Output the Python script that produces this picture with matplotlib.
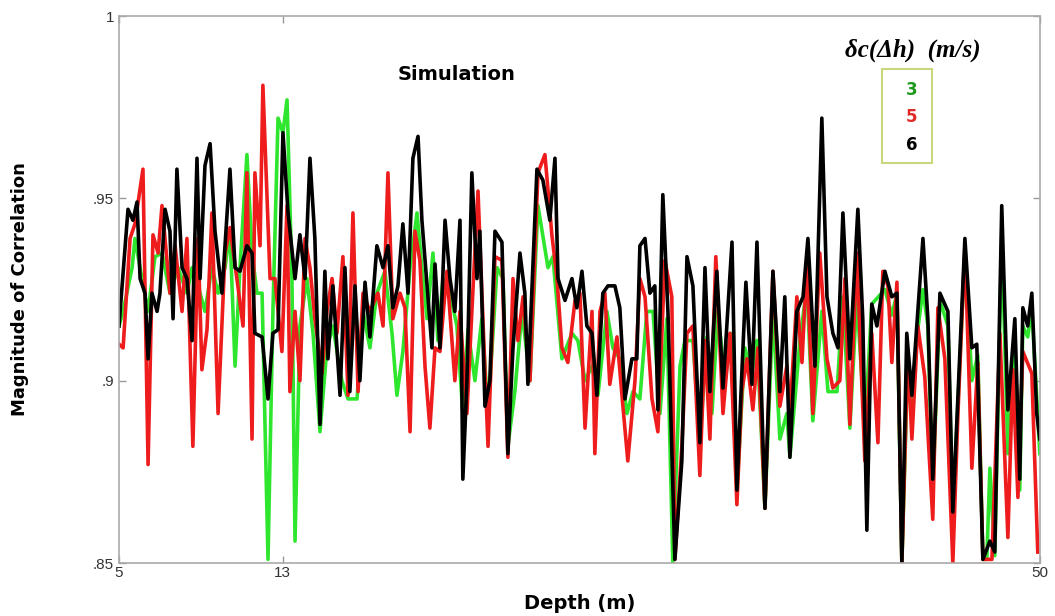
import matplotlib
matplotlib.use("Agg")
import matplotlib.pyplot as plt
from matplotlib.patches import Rectangle

plt.rcParams['font.family'] = ['Liberation Sans', 'DejaVu Sans']

# depth (m) / magnitude of correlation, one pair per sound-speed error
depth_3 = [5.00, 5.20, 5.64, 5.78, 6.12, 6.42, 6.76, 7.10, 7.49, 7.88, 8.32, 8.57, 8.86, 9.20,
           9.54, 9.84, 10.18, 10.42, 10.67, 10.91, 11.25, 11.50, 11.74, 11.99, 12.28, 12.52,
           12.77, 13.01, 13.21, 13.45, 13.60, 13.84, 14.18, 14.48, 14.82, 15.16, 15.45, 15.89,
           16.19, 16.63, 16.92, 17.26, 17.60, 17.99, 18.34, 18.58, 18.87, 19.22, 19.56, 19.80,
           20.05, 20.34, 20.58, 20.83, 21.17, 21.51, 21.80, 22.05, 22.39, 22.73, 23.03, 23.47,
           23.76, 24.00, 24.34, 24.69, 25.08, 25.47, 25.96, 26.20, 26.64, 27.13, 27.42, 27.77,
           28.11, 28.40, 28.84, 29.13, 29.47, 29.82, 30.11, 30.45, 30.79, 31.09, 31.43, 31.77,
           32.06, 32.41, 32.65, 33.04, 33.38, 33.72, 33.97, 34.26, 34.60, 34.95, 35.19, 35.58,
           35.92, 36.17, 36.56, 36.95, 37.29, 37.63, 37.78, 38.27, 38.61, 38.90, 39.34, 39.64,
           40.08, 40.37, 40.71, 41.05, 41.44, 41.78, 42.42, 42.76, 43.01, 43.25, 43.54, 43.74,
           43.98, 44.28, 44.52, 44.76, 45.11, 45.50, 45.74, 45.99, 46.33, 46.67, 46.96, 47.21,
           47.40, 47.55, 47.79, 48.13, 48.43, 48.77, 49.01, 49.16, 49.40, 49.60, 49.99]
corr_3 = [0.915, 0.919, 0.931, 0.939, 0.928, 0.919, 0.934, 0.935, 0.924, 0.931, 0.924, 0.931, 0.926, 0.919,
          0.931, 0.924, 0.931, 0.941, 0.904, 0.931, 0.962, 0.935, 0.924, 0.924, 0.851, 0.919,
          0.972, 0.968, 0.977, 0.928, 0.856, 0.915, 0.928, 0.913, 0.886, 0.909, 0.915, 0.900,
          0.895, 0.895, 0.919, 0.909, 0.924, 0.930, 0.913, 0.896, 0.908, 0.931, 0.946, 0.931,
          0.917, 0.935, 0.911, 0.928, 0.924, 0.915, 0.891, 0.914, 0.900, 0.917, 0.891, 0.931,
          0.928, 0.882, 0.897, 0.919, 0.900, 0.948, 0.931, 0.934, 0.906, 0.913, 0.911, 0.900,
          0.904, 0.896, 0.919, 0.909, 0.906, 0.891, 0.897, 0.895, 0.919, 0.919, 0.891, 0.917,
          0.850, 0.904, 0.911, 0.911, 0.883, 0.912, 0.891, 0.919, 0.900, 0.913, 0.870, 0.909,
          0.902, 0.911, 0.865, 0.919, 0.884, 0.891, 0.879, 0.911, 0.926, 0.889, 0.919, 0.897,
          0.897, 0.923, 0.887, 0.923, 0.887, 0.921, 0.925, 0.918, 0.924, 0.850, 0.905, 0.890,
          0.912, 0.925, 0.915, 0.870, 0.922, 0.915, 0.862, 0.894, 0.935, 0.900, 0.907, 0.851,
          0.851, 0.876, 0.852, 0.940, 0.880, 0.910, 0.870, 0.915, 0.912, 0.920, 0.880]

depth_5 = [5.00, 5.20, 5.54, 5.78, 6.17, 6.42, 6.66, 6.91, 7.10, 7.49, 7.74, 8.08, 8.32, 8.61,
           8.86, 9.05, 9.30, 9.54, 9.84, 10.18, 10.42, 10.76, 11.06, 11.25, 11.50, 11.64, 11.89,
           12.03, 12.38, 12.62, 12.96, 13.21, 13.35, 13.60, 13.84, 14.09, 14.33, 14.57, 14.92,
           15.16, 15.41, 15.65, 15.94, 16.19, 16.43, 16.68, 16.92, 17.26, 17.65, 17.90, 18.14,
           18.38, 18.73, 18.97, 19.22, 19.46, 19.70, 19.95, 20.19, 20.44, 20.68, 21.02, 21.41,
           21.66, 22.00, 22.24, 22.54, 22.78, 23.03, 23.37, 23.71, 24.00, 24.25, 24.49, 24.74,
           25.08, 25.47, 25.81, 26.15, 26.40, 26.64, 26.93, 27.28, 27.52, 27.77, 28.11, 28.25,
           28.50, 28.74, 28.98, 29.33, 29.62, 29.86, 30.21, 30.45, 30.70, 31.04, 31.33, 31.67,
           32.01, 32.16, 32.50, 32.75, 33.04, 33.38, 33.63, 33.87, 34.16, 34.51, 34.85, 35.19,
           35.43, 35.68, 35.97, 36.22, 36.56, 36.95, 37.29, 37.63, 37.78, 38.12, 38.37, 38.61,
           38.90, 39.24, 39.59, 39.88, 40.22, 40.47, 40.71, 41.05, 41.44, 41.78, 42.08, 42.32,
           42.57, 42.76, 43.01, 43.25, 43.54, 43.74, 44.03, 44.37, 44.76, 45.01, 45.35, 45.74,
           45.99, 46.33, 46.67, 46.96, 47.21, 47.65, 48.04, 48.43, 48.67, 48.92, 49.16, 49.60,
           49.89]
corr_5 = [0.910, 0.909, 0.939, 0.943, 0.958, 0.877, 0.940, 0.935, 0.948, 0.924, 0.937, 0.919, 0.939, 0.882,
          0.939, 0.903, 0.914, 0.946, 0.891, 0.935, 0.942, 0.928, 0.915, 0.957, 0.884, 0.957, 0.937,
          0.981, 0.928, 0.928, 0.908, 0.948, 0.897, 0.919, 0.900, 0.939, 0.931, 0.917, 0.902,
          0.919, 0.928, 0.913, 0.934, 0.896, 0.946, 0.897, 0.924, 0.919, 0.924, 0.915, 0.957,
          0.917, 0.924, 0.920, 0.886, 0.941, 0.933, 0.904, 0.887, 0.909, 0.908, 0.930, 0.900,
          0.919, 0.891, 0.919, 0.952, 0.917, 0.882, 0.934, 0.933, 0.879, 0.928, 0.911, 0.923,
          0.900, 0.957, 0.962, 0.940, 0.928, 0.909, 0.905, 0.922, 0.924, 0.887, 0.919, 0.880,
          0.919, 0.924, 0.899, 0.912, 0.893, 0.878, 0.900, 0.928, 0.923, 0.895, 0.886, 0.933,
          0.923, 0.851, 0.882, 0.913, 0.915, 0.874, 0.911, 0.884, 0.934, 0.891, 0.913, 0.866,
          0.897, 0.906, 0.892, 0.909, 0.865, 0.930, 0.893, 0.904, 0.891, 0.923, 0.905, 0.933,
          0.891, 0.935, 0.906, 0.898, 0.900, 0.928, 0.888, 0.935, 0.878, 0.913, 0.883, 0.930,
          0.926, 0.905, 0.927, 0.850, 0.908, 0.884, 0.915, 0.901, 0.862, 0.920, 0.906, 0.850,
          0.891, 0.937, 0.876, 0.905, 0.851, 0.851, 0.913, 0.857, 0.903, 0.868, 0.908, 0.902,
          0.853]

depth_6 = [5.00, 5.44, 5.68, 5.88, 6.03, 6.27, 6.42, 6.61, 6.86, 7.00, 7.25, 7.49, 7.64, 7.83,
           8.08, 8.32, 8.57, 8.81, 8.96, 9.20, 9.45, 9.69, 10.03, 10.42, 10.67, 10.91, 11.25,
           11.50, 11.64, 11.99, 12.28, 12.52, 12.77, 13.01, 13.26, 13.60, 13.84, 14.09, 14.33,
           14.57, 14.82, 15.06, 15.21, 15.45, 15.80, 16.04, 16.28, 16.53, 16.77, 17.02, 17.26,
           17.60, 17.90, 18.14, 18.38, 18.63, 18.87, 19.12, 19.36, 19.61, 19.80, 20.05, 20.29,
           20.44, 20.68, 20.93, 21.17, 21.41, 21.66, 21.80, 22.00, 22.24, 22.49, 22.63, 22.88,
           23.12, 23.37, 23.71, 24.00, 24.25, 24.59, 24.83, 24.98, 25.42, 25.71, 26.05, 26.30,
           26.45, 26.79, 27.13, 27.37, 27.62, 27.86, 28.11, 28.35, 28.64, 28.89, 29.23, 29.47,
           29.72, 30.06, 30.30, 30.45, 30.70, 30.94, 31.18, 31.33, 31.57, 31.82, 32.16, 32.50,
           32.75, 33.04, 33.38, 33.63, 33.87, 34.21, 34.51, 34.95, 35.19, 35.43, 35.63, 35.92,
           36.17, 36.56, 36.95, 37.29, 37.53, 37.78, 38.12, 38.42, 38.66, 39.00, 39.34, 39.59,
           39.88, 40.13, 40.37, 40.71, 41.10, 41.34, 41.54, 41.78, 42.03, 42.42, 42.76, 43.01,
           43.25, 43.49, 43.74, 43.98, 44.28, 44.52, 44.76, 45.11, 45.50, 45.74, 45.99, 46.33,
           46.67, 46.91, 47.21, 47.55, 47.79, 48.13, 48.43, 48.77, 49.01, 49.16, 49.40, 49.60,
           49.84, 49.99]
corr_6 = [0.915, 0.947, 0.944, 0.949, 0.928, 0.924, 0.906, 0.924, 0.919, 0.924, 0.947, 0.941, 0.917, 0.958,
          0.931, 0.928, 0.911, 0.961, 0.928, 0.959, 0.965, 0.941, 0.924, 0.958, 0.931, 0.930, 0.937,
          0.935, 0.913, 0.912, 0.895, 0.913, 0.914, 0.968, 0.946, 0.928, 0.940, 0.928, 0.961,
          0.939, 0.888, 0.930, 0.906, 0.926, 0.896, 0.931, 0.897, 0.926, 0.900, 0.927, 0.912,
          0.937, 0.931, 0.937, 0.920, 0.926, 0.943, 0.924, 0.961, 0.967, 0.944, 0.926, 0.909,
          0.932, 0.909, 0.944, 0.928, 0.919, 0.944, 0.873, 0.900, 0.957, 0.928, 0.941, 0.893,
          0.900, 0.941, 0.938, 0.880, 0.909, 0.935, 0.924, 0.899, 0.958, 0.955, 0.944, 0.961,
          0.928, 0.922, 0.928, 0.920, 0.930, 0.915, 0.913, 0.896, 0.924, 0.926, 0.926, 0.920,
          0.895, 0.906, 0.906, 0.937, 0.939, 0.924, 0.926, 0.892, 0.951, 0.919, 0.851, 0.878,
          0.934, 0.926, 0.883, 0.931, 0.897, 0.930, 0.898, 0.938, 0.870, 0.902, 0.927, 0.899,
          0.938, 0.865, 0.930, 0.897, 0.923, 0.879, 0.919, 0.923, 0.939, 0.904, 0.972, 0.923,
          0.913, 0.909, 0.946, 0.906, 0.947, 0.917, 0.859, 0.921, 0.915, 0.930, 0.923, 0.924,
          0.850, 0.913, 0.896, 0.915, 0.939, 0.917, 0.873, 0.924, 0.919, 0.864, 0.896, 0.939,
          0.909, 0.910, 0.851, 0.856, 0.853, 0.948, 0.892, 0.917, 0.873, 0.920, 0.915, 0.924,
          0.891, 0.884]

series = [("3", depth_3, corr_3, "#2ee62e", "#1f9a1f"),
          ("5", depth_5, corr_5, "#ee1c1c", "#e02a2a"),
          ("6", depth_6, corr_6, "#000000", "#000000")]

fig = plt.figure(figsize=(10.55, 6.16), dpi=100)
ax = fig.add_axes([0.1128, 0.086, 0.873, 0.888])

for name, d, c, col, _ in series:
    ax.plot(d, c, color=col, lw=2.6, solid_joinstyle='round')

ax.set_xlim(5, 50)
ax.set_ylim(0.85, 1.0)
ax.set_xticks([5, 13, 50])
ax.set_xticklabels(["5", "13", "50"])
ax.set_yticks([0.85, 0.9, 0.95, 1.0])
ax.set_yticklabels([".85", ".9", ".95", "1"])
ax.tick_params(direction='in', length=5, width=1, color='#999999', labelsize=11,
               labelcolor='#333333', top=True, right=True)
ax.tick_params(axis='x', pad=2)
for sp in ax.spines.values():
    sp.set_color('#aaaaaa')
    sp.set_linewidth(1.2)

heavy = ['DejaVu Sans']
ax.set_xlabel("Depth (m)", fontsize=14, fontweight='bold', family=heavy, labelpad=10)
ax.set_ylabel("Magnitude of Correlation", fontsize=13, fontweight='bold', family=heavy, labelpad=46)

ax.text(21.5, 0.984, "Simulation", fontsize=14, fontweight='bold', family=heavy,
        ha='center', va='center')
ax.text(43.8, 0.9905, "δc(Δh)  (m/s)", fontsize=18, ha='center', va='center',
        family=['Liberation Serif', 'DejaVu Serif'], style='italic', fontweight='bold')

# small box listing the error values in line colours
ax.add_patch(Rectangle((0.828, 0.731), 0.055, 0.172, transform=ax.transAxes,
                       fill=False, edgecolor='#c9d77f', lw=1.5))
for i, (name, _, _, _, tcol) in enumerate(series):
    ax.text(0.861, 0.865 - i * 0.05, name, transform=ax.transAxes, fontsize=12,
            fontweight='bold', family=heavy, color=tcol, ha='center', va='center')

fig.savefig("out.png", dpi=100)
